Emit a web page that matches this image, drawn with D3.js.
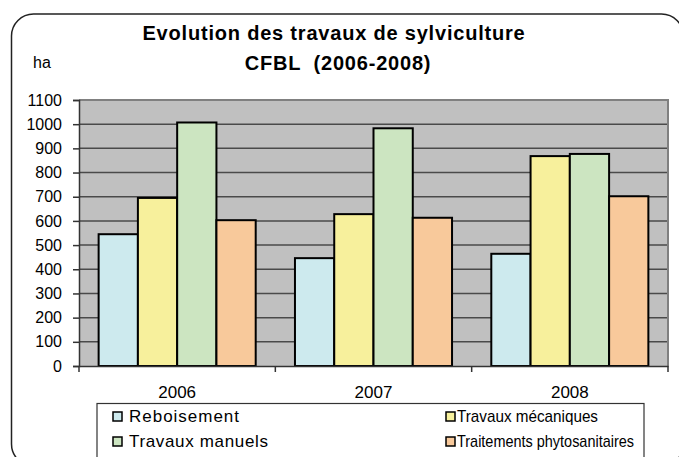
<!DOCTYPE html>
<html>
<head>
<meta charset="utf-8">
<script src="https://d3js.org/d3.v7.min.js"></script>
<style>
body { margin: 0; background: #fff; }
text { font-family: "Liberation Sans", Arial, sans-serif; fill: #000; }
</style>
</head>
<body>
<svg id="chart" width="679" height="457"></svg>
<script>
// data
var years = ["2006", "2007", "2008"];
var series = ["Reboisement", "Travaux mécaniques", "Travaux manuels", "Traitements phytosanitaires"];
var colors = ["#cdeaee", "#f7f09c", "#cce5c1", "#f8c99b"];
var reboisement = [545, 446, 464];
var mecaniques = [695, 628, 868];
var manuels = [1007, 983, 877];
var phyto = [603, 613, 702];
var yTicks = [0, 100, 200, 300, 400, 500, 600, 700, 800, 900, 1000, 1100];

var values = [reboisement, mecaniques, manuels, phyto];

var svg = d3.select("#chart");

// rounded chart border
svg.append("rect")
  .attr("x", 11.5).attr("y", 14).attr("width", 672).attr("height", 452)
  .attr("rx", 22).attr("ry", 22)
  .attr("fill", "none").attr("stroke", "#222").attr("stroke-width", 1.5);

// titles
svg.append("text").attr("x", 334).attr("y", 40).attr("text-anchor", "middle")
  .style("font-size", "20px").style("font-weight", "bold").style("letter-spacing", "0.8px")
  .text("Evolution des travaux de sylviculture");
svg.append("text").attr("x", 338).attr("y", 70).attr("text-anchor", "middle")
  .style("font-size", "20px").style("font-weight", "bold").style("letter-spacing", "0.8px")
  .style("white-space", "pre").attr("xml:space", "preserve")
  .text("CFBL  (2006-2008)");
svg.append("text").attr("x", 33).attr("y", 68).style("font-size", "16px").text("ha");

// scales
var mLeft = 79, mRight = 668, mTop = 100, mBottom = 366;
var x0 = d3.scaleBand().domain(years).range([mLeft, mRight]).paddingInner(0).paddingOuter(0);
var x1 = d3.scaleBand().domain(d3.range(series.length)).range([0, x0.bandwidth()]).paddingOuter(0.5).paddingInner(0);
var y = d3.scaleLinear().domain([0, 1100]).range([mBottom, mTop]);

// plot background
svg.append("rect").attr("x", mLeft).attr("y", mTop).attr("width", mRight - mLeft).attr("height", mBottom - mTop)
  .attr("fill", "#c0c0c0");

// gridlines
svg.append("g").selectAll("line").data(yTicks.filter(function(d) { return d > 0 && d < 1100; }))
  .enter().append("line")
  .attr("x1", mLeft).attr("x2", mRight)
  .attr("y1", function(d) { return y(d); }).attr("y2", function(d) { return y(d); })
  .attr("stroke", "#4a4a4a").attr("stroke-width", 1.5);

// plot border top/right
svg.append("path")
  .attr("d", "M" + mLeft + "," + mTop + "H" + mRight + "V" + mBottom)
  .attr("fill", "none").attr("stroke", "#808080").attr("stroke-width", 2);

// bars
var groups = svg.append("g").selectAll("g").data(years).enter().append("g")
  .attr("transform", function(d) { return "translate(" + x0(d) + ",0)"; });
groups.selectAll("rect").data(function(d, i) { return values.map(function(s, k) { return { k: k, v: s[i] }; }); })
  .enter().append("rect")
  .attr("x", function(d) { return x1(d.k); })
  .attr("width", x1.bandwidth())
  .attr("y", function(d) { return y(d.v); })
  .attr("height", function(d) { return y(0) - y(d.v); })
  .attr("fill", function(d) { return colors[d.k]; })
  .attr("stroke", "#000").attr("stroke-width", 2);

// y axis
var yAxis = svg.append("g").attr("transform", "translate(" + mLeft + ",0)")
  .call(d3.axisLeft(y).tickValues(yTicks).tickFormat(d3.format("d")).tickSize(6).tickPadding(11));
yAxis.select(".domain").attr("stroke", "#333").attr("stroke-width", 1.5);
yAxis.selectAll(".tick line").attr("stroke", "#333").attr("stroke-width", 1.5);
yAxis.selectAll(".tick text").style("font-size", "16px")
  .style("font-family", "Liberation Sans, Arial, sans-serif").attr("fill", "#000");

// x axis
var xAxis = svg.append("g").attr("transform", "translate(0," + mBottom + ")")
  .call(d3.axisBottom(x0).tickSize(0).tickPadding(20));
xAxis.select(".domain").attr("stroke", "#333").attr("stroke-width", 1.5);
xAxis.selectAll(".tick text").style("font-size", "17px")
  .style("font-family", "Liberation Sans, Arial, sans-serif").attr("fill", "#000");
svg.append("g").selectAll("line").data([mLeft].concat(years.map(function(d) { return x0(d) + x0.bandwidth(); })))
  .enter().append("line")
  .attr("x1", function(d) { return d; }).attr("x2", function(d) { return d; })
  .attr("y1", mBottom).attr("y2", mBottom + 6)
  .attr("stroke", "#333").attr("stroke-width", 1.5);

// legend
svg.append("rect").attr("x", 97).attr("y", 403.5).attr("width", 547).attr("height", 70)
  .attr("fill", "#fff").attr("stroke", "#333").attr("stroke-width", 1.2);
var legendPos = [[113, 412], [446, 412], [113, 437], [446, 437]];
var legendText = [[16, 110, "spacing"], [11, 141, "spacingAndGlyphs"], [16, 139, "spacing"], [11, 177, "spacingAndGlyphs"]];
var leg = svg.append("g").selectAll("g").data(series).enter().append("g")
  .attr("transform", function(d, i) { return "translate(" + legendPos[i][0] + "," + legendPos[i][1] + ")"; });
leg.append("rect").attr("width", 9).attr("height", 9)
  .attr("fill", function(d, i) { return colors[i]; })
  .attr("stroke", "#000").attr("stroke-width", 1.5);
leg.append("text").attr("x", function(d, i) { return legendText[i][0]; }).attr("y", 9.8)
  .attr("textLength", function(d, i) { return legendText[i][1]; })
  .attr("lengthAdjust", function(d, i) { return legendText[i][2]; })
  .style("font-size", "17px")
  .text(function(d) { return d; });
</script>
</body>
</html>
